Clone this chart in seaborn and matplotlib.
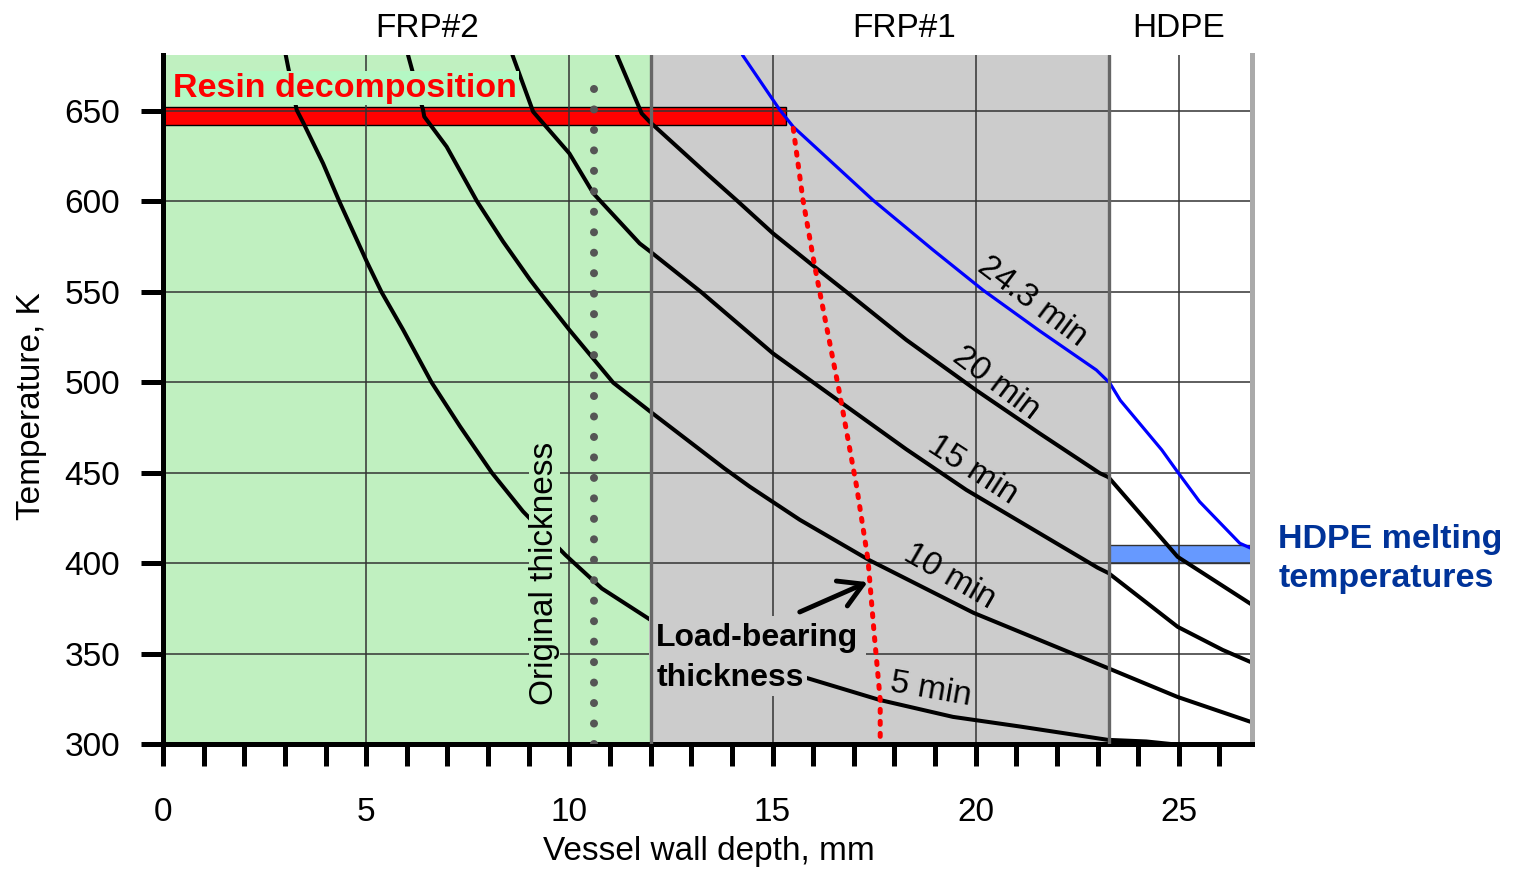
import matplotlib
matplotlib.use("Agg")
import matplotlib.pyplot as plt
from matplotlib import font_manager
from matplotlib.patches import Rectangle
import seaborn as sns

# wall layers (mm)
frp2_end = 12.0
frp1_end = 23.27
wall_end = 26.8
original_thickness = 10.6

resin_band = (642.5, 652.0)
resin_end = 15.33
hdpe_melt = (400.0, 410.0)

# temperature profiles: depth (mm) / temperature (K)
c5_x = [3.02, 3.29, 3.46, 3.94, 4.34, 5.03, 5.38, 5.91, 6.61, 7.31, 8.09, 8.86,
        9.9, 10.8, 12.0, 15.83, 17.63, 19.44, 21.08, 23.25, 24.2, 24.8]
c5_y = [681, 650.6, 643.2, 621, 600, 566, 549.8, 529, 499.9, 475.6, 450.1, 428.6,
        404.6, 386, 368.6, 336.6, 324.4, 315, 309.7, 302.3, 301.4, 300]

c10_x = [6.03, 6.4, 6.43, 6.98, 7.73, 8.37, 9.03, 9.27, 10.0, 11.08, 11.73, 11.98,
         13.81, 14.44, 15.67, 17.37, 19.95, 23.25, 24.97, 26.8]
c10_y = [681, 650.6, 646.9, 630.3, 600, 577.8, 556.8, 549.8, 529, 499.8, 488.4, 484,
         452.5, 442.3, 424, 401.8, 372.5, 342, 326, 312]

c15_x = [8.6, 9.11, 10.0, 10.59, 11.73, 11.98, 13.25, 15.01, 16.74, 18.29, 19.77,
         23.0, 23.27, 24.97, 26.08, 26.8]
c15_y = [681, 649.6, 626.6, 604.5, 576.8, 572.5, 549.8, 516, 488, 463, 440.5,
         397.5, 394.5, 364.8, 352, 345]

c20_x = [11.17, 11.78, 11.98, 13.37, 14.15, 15.01, 16.0, 16.83, 18.29, 20.02, 21.57,
         23.05, 23.27, 24.97, 26.8]
c20_y = [681, 648.7, 644, 615.6, 600, 582.4, 564.5, 549.8, 523.5, 495.5, 471.8,
         449.8, 447.5, 403.5, 377]

c24_x = [14.26, 15.18, 15.51, 17.47, 18.95, 20.18, 21.57, 22.97, 23.3, 23.56, 24.58,
         24.97, 25.51, 26.5, 26.8]
c24_y = [681, 650.6, 641.3, 600.8, 573.2, 551, 528.5, 506.8, 499.6, 490, 462.6,
         450.4, 434, 411, 408]

# load-bearing thickness boundary
lb_x = [15.51, 15.75, 16.04, 16.33, 16.65, 17.07, 17.35, 17.5, 17.65, 17.65]
lb_y = [640.4, 600.8, 564, 530.8, 494, 442.3, 401.8, 361.4, 324.4, 300]

curve_labels = ["24.3 min", "20 min", "15 min", "10 min", "5 min"]
label_x = [21.4, 20.5, 19.93, 19.36, 18.9]
label_y = [544.4, 499.5, 451.5, 392.6, 330]
label_rot = [-37, -37, -33, -30, -10]

layer_names = ["FRP#2", "FRP#1", "HDPE"]
layer_x = [6.5, 18.25, 25.0]

sns.set_style("white")
plt.rcParams["font.family"] = ["Liberation Sans", "DejaVu Sans"]
for key in ["text.color", "axes.labelcolor", "xtick.color", "ytick.color"]:
    plt.rcParams[key] = "black"

names = {f.name for f in font_manager.fontManager.ttflist}
if "Liberation Sans Narrow" in names:
    narrow, narrow_size = "Liberation Sans Narrow", 29.5
else:
    narrow, narrow_size = "Liberation Sans", 24.5

fig = plt.figure(figsize=(15.31, 8.69), dpi=100)
ax = fig.add_axes([0.10647, 0.14384, 0.71130, 0.79287])

# layer backgrounds
ax.axvspan(0, frp2_end, color="#c0f0c0", lw=0, zorder=0)
ax.axvspan(frp2_end, frp1_end, color="#cccccc", lw=0, zorder=0)
ax.axvline(frp2_end, color="#666666", lw=2.4, zorder=4.5)
ax.axvline(frp1_end, color="#666666", lw=2.4, zorder=4.5)

ax.add_patch(Rectangle((0, resin_band[0]), resin_end, resin_band[1] - resin_band[0],
                       facecolor="#ff0000", edgecolor="black", lw=1, zorder=1.2))
ax.add_patch(Rectangle((frp1_end, hdpe_melt[0]), wall_end - frp1_end,
                       hdpe_melt[1] - hdpe_melt[0],
                       facecolor="#6699ff", edgecolor="#333333", lw=1, zorder=1.2))

for cx, cy in [(c5_x, c5_y), (c10_x, c10_y), (c15_x, c15_y), (c20_x, c20_y)]:
    sns.lineplot(x=cx, y=cy, ax=ax, color="black", lw=2.9, sort=False,
                 estimator=None, zorder=2.5)
sns.lineplot(x=c24_x, y=c24_y, ax=ax, color="#0000ff", lw=2.3, sort=False,
             estimator=None, zorder=2.5)
sns.lineplot(x=lb_x, y=lb_y, ax=ax, color="#ff0000", lw=3.6, sort=False,
             estimator=None, zorder=2.6, linestyle=(0, (0.6, 1.8)),
             dash_capstyle="round")
ax.vlines(original_thickness, 300, 670.5, color="#555555", lw=5.8,
          linestyles=[(0, (0.001, 2.54))], capstyle="round", zorder=2.6)

for t, x, y, r in zip(curve_labels, label_x, label_y, label_rot):
    ax.text(x, y, t, fontsize=24, rotation=r, rotation_mode="anchor",
            ha="center", va="center", zorder=3)

ax.text(0.25, 658, "Resin decomposition", family=[narrow, "DejaVu Sans"],
        fontsize=narrow_size, fontweight="bold", color="#ff0000", va="baseline",
        zorder=4, bbox=dict(boxstyle="square,pad=0.05", fc="#b4f8c4", ec="none"))
ax.text(9.385, 394.6, "Original thickness", fontsize=24, rotation=90,
        ha="center", va="center", zorder=4,
        bbox=dict(boxstyle="square,pad=0", fc="#c0f0c0", ec="none"))
ax.text(12.14, 332.1, "thickness", fontsize=23, fontweight="bold",
        va="baseline", ha="left", zorder=4,
        bbox=dict(boxstyle="square,pad=0.1", fc="#cccccc", ec="none"))
ax.text(12.14, 354.3, "Load-bearing", fontsize=23, fontweight="bold",
        va="baseline", ha="left", zorder=4.1,
        bbox=dict(boxstyle="square,pad=0.22", fc="#cccccc", ec="none"))
ax.text(27.45, 387.0, "HDPE melting\ntemperatures", fontsize=24.5,
        fontweight="bold", color="#003399", va="baseline", ha="left",
        linespacing=1.32, clip_on=False)
ax.annotate("", xy=(17.34, 389.5), xytext=(15.67, 373),
            arrowprops=dict(arrowstyle="->,head_length=0.6,head_width=0.35",
                            lw=3.5, color="black", mutation_scale=28,
                            shrinkA=0, shrinkB=0), zorder=4)

for name, x in zip(layer_names, layer_x):
    ax.text(x, 1.039, name, fontsize=24, ha="center", va="center",
            transform=ax.get_xaxis_transform(), clip_on=False)

ax.set_xlim(0, wall_end)
ax.set_ylim(300, 681)
ax.set_xticks(range(0, 26, 5))
ax.set_xticks(range(0, 27), minor=True)
ax.set_yticks(range(300, 651, 50))
ax.tick_params(axis="both", which="both", direction="out", length=16,
               width=3.6, color="black", labelsize=24, bottom=True, left=True)
ax.tick_params(axis="x", which="both", pad=22)
ax.tick_params(axis="y", pad=15)

ax.set_axisbelow("line")
ax.grid(axis="both", which="major", color="#333333", lw=1.1)

for side in ["left", "bottom"]:
    ax.spines[side].set_linewidth(3.6)
    ax.spines[side].set_color("black")
ax.spines["right"].set_linewidth(3.6)
ax.spines["right"].set_color("#aaaaaa")
ax.spines["top"].set_visible(False)

ax.set_xlabel("Vessel wall depth, mm", fontsize=24, va="top")
ax.xaxis.set_label_coords(0.501, -0.1336)
ax.set_ylabel("Temperature, K", fontsize=24)
ax.yaxis.set_label_coords(-0.1065, 0.49)

fig.savefig("out.png", dpi=100)
